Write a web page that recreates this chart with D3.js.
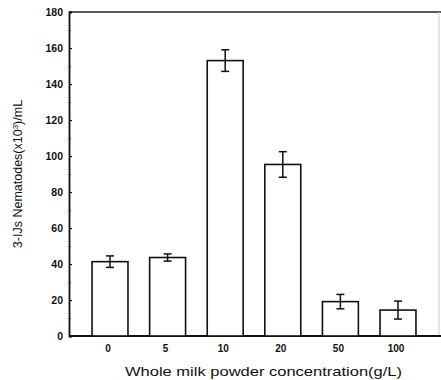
<!DOCTYPE html>
<html><head><meta charset="utf-8">
<script src="https://cdn.jsdelivr.net/npm/d3@7"></script>
<style>body{margin:0;background:#fff}svg{display:block}text{font-family:"Liberation Sans",Arial,sans-serif;fill:#111}</style>
</head><body>
<svg id="c" width="441" height="380"></svg>
<script>
const categories = ["0","5","10","20","50","100"];
const values = [41.3, 43.6, 153, 95.3, 19.1, 14.4];
const errors = [3.2, 2.0, 6.0, 7.1, 4.0, 5.0];
const yTicks = [0,20,40,60,80,100,120,140,160,180];

const svg = d3.select("#c");
const L = 69, R = 439, T = 12, B = 336;
const x = d3.scaleBand().domain(categories).range([L, R]).paddingInner(0.376).paddingOuter(0.4);
const y = d3.scaleLinear().domain([0,180]).range([B, T]);

// frame
svg.append("line").attr("x1",L).attr("x2",441).attr("y1",T).attr("y2",T).attr("stroke","#222").attr("stroke-width",1.5);
svg.append("line").attr("x1",R).attr("x2",R).attr("y1",T).attr("y2",B).attr("stroke","#ccc").attr("stroke-width",1);
svg.append("line").attr("x1",L).attr("x2",441).attr("y1",B).attr("y2",B).attr("stroke","#111").attr("stroke-width",1.8);

// y axis
const yAxis = d3.axisRight(y).tickValues(yTicks).tickSize(3).tickFormat("");
const gy = svg.append("g").attr("transform",`translate(${L},0)`).call(yAxis);
gy.select(".domain").attr("stroke","#111").attr("stroke-width",1.8);
gy.selectAll(".tick line").attr("stroke","#111").attr("stroke-width",1.2);
const yMinor = d3.axisRight(y).tickValues(d3.range(10,180,20)).tickSize(2).tickFormat("");
const gm = svg.append("g").attr("transform",`translate(${L},0)`).call(yMinor);
gm.select(".domain").remove();
gm.selectAll(".tick line").attr("stroke","#333").attr("stroke-width",1);
svg.append("g").selectAll("text").data(yTicks).join("text")
  .attr("x",L-6).attr("y",d=>y(d)).attr("dy","0.35em").attr("text-anchor","end")
  .attr("font-size",10.5).attr("font-weight","bold").text(d=>d);

// bars
svg.append("g").selectAll("rect").data(values).join("rect")
  .attr("x",(d,i)=>x(categories[i])).attr("y",d=>y(d))
  .attr("width",x.bandwidth()).attr("height",d=>B-y(d))
  .attr("fill","#fff").attr("stroke","#111").attr("stroke-width",1.6);

// error bars
const eg = svg.append("g").attr("stroke","#111").attr("stroke-width",1.5);
values.forEach((v,i)=>{
  const cx = x(categories[i]) + x.bandwidth()/2;
  eg.append("line").attr("x1",cx).attr("x2",cx).attr("y1",y(v+errors[i])).attr("y2",y(v-errors[i]));
  eg.append("line").attr("x1",cx-4).attr("x2",cx+4).attr("y1",y(v+errors[i])).attr("y2",y(v+errors[i]));
  eg.append("line").attr("x1",cx-4).attr("x2",cx+4).attr("y1",y(v-errors[i])).attr("y2",y(v-errors[i]));
});

// x tick labels
svg.append("g").selectAll("text").data(categories).join("text")
  .attr("x",d=>x(d)+x.bandwidth()/2-2).attr("y",352).attr("text-anchor","middle")
  .attr("font-size",10).attr("font-weight","bold").text(d=>d);

// titles
svg.append("text").attr("x",125).attr("y",376)
  .attr("font-size",13).attr("textLength",277).attr("lengthAdjust","spacingAndGlyphs")
  .text("Whole milk powder concentration(g/L)");
const yt = svg.append("text").attr("transform","translate(22,174) rotate(-90)").attr("text-anchor","middle").attr("font-size",12.5);
yt.append("tspan").text("3-IJs Nematodes(x10");
yt.append("tspan").attr("dy",-4).attr("font-size",8).text("3");
yt.append("tspan").attr("dy",4).text(")/mL");
</script>
</body></html>
